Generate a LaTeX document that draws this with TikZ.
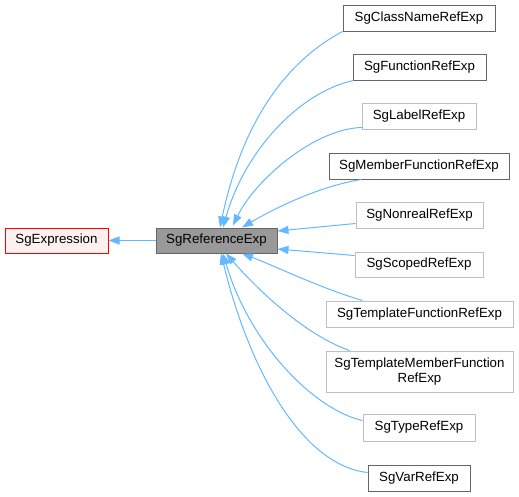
\documentclass[tikz,border=0pt]{standalone}
\usepackage{fontspec}
\setmainfont{Liberation Sans}
\usetikzlibrary{arrows.meta}
\definecolor{edgeblue}{HTML}{63B8FF}
\definecolor{darkb}{HTML}{666666}
\definecolor{lightb}{HTML}{BFBFBF}
\definecolor{pinkf}{HTML}{FFF0F0}
\definecolor{grayf}{HTML}{999999}
\begin{document}
\begin{tikzpicture}[x=1pt,y=-1pt,
  box/.style={draw, line width=1pt, fill=white, inner sep=0pt, minimum height=26pt, align=center,
    font=\fontsize{13.3}{15}\selectfont},
  docbox/.style={box, draw=darkb},
  undocbox/.style={box, draw=lightb},
  edge/.style={draw=edgeblue, line width=1pt, -{Triangle[length=11pt,width=8pt,fill=edgeblue]}}]
\useasboundingbox (0,0) rectangle (519,496);
\node[box, draw=red, fill=pinkf, minimum width=103pt, minimum height=25pt] (expr) at (56.5,240.5) {SgExpression};
\node[box, draw=darkb, fill=grayf, minimum width=121pt, minimum height=25pt] (ref) at (216.5,240.5) {SgReferenceExp};
\node[docbox, minimum width=152pt] (cls) at (419,18) {SgClassNameRefExp};
\node[docbox, minimum width=133pt] (fun) at (419.5,67) {SgFunctionRefExp};
\node[undocbox, minimum width=114pt] (lab) at (419,116) {SgLabelRefExp};
\node[docbox, minimum width=180pt] (mem) at (419,166) {SgMemberFunctionRefExp};
\node[undocbox, minimum width=127pt] (non) at (419.5,215) {SgNonrealRefExp};
\node[undocbox, minimum width=128pt, minimum height=25pt] (sco) at (419,264.5) {SgScopedRefExp};
\node[undocbox, minimum width=187pt] (tf) at (419.5,314) {SgTemplateFunctionRefExp};
\node[undocbox, minimum width=187pt, minimum height=41pt] (tm) at (419.5,371.5) {SgTemplateMemberFunction\\RefExp};
\node[undocbox, minimum width=112pt, minimum height=27pt] (typ) at (419,427.5) {SgTypeRefExp};
\node[docbox, minimum width=102pt] (var) at (419,478) {SgVarRefExp};

\draw[edge] (ref.west) -- (expr.east);

\draw[edge] (cls.south west) .. controls (308,50) and (248,95) .. ([xshift=3.5pt]ref.north);
\draw[edge] ([xshift=1pt]fun.south west) .. controls (300,92) and (245,150) .. ([xshift=6.5pt]ref.north);
\draw[edge] ([xshift=1pt,yshift=2pt]lab.south west) .. controls (315,128) and (255,180) .. ([xshift=16.5pt,yshift=2pt]ref.north);
\draw[edge] ([xshift=33pt]mem.south west) .. controls (320,186) and (275,208) .. ([xshift=25.5pt]ref.north);
\draw[edge] ([yshift=5pt]non.south west) -- ([yshift=9.5pt]ref.east);
\draw[edge] ([yshift=-4pt]sco.north west) -- ([yshift=-8.5pt]ref.east);
\draw[edge] ([xshift=37pt]tf.north west) .. controls (320,288) and (275,266) .. ([xshift=25.5pt]ref.south);
\draw[edge] ([xshift=24pt]tm.north west) .. controls (305,335) and (258,290) .. ([xshift=9.5pt]ref.south);
\draw[edge] ([yshift=-7pt]typ.north west) .. controls (315,410) and (250,345) .. ([xshift=6.5pt]ref.south);
\draw[edge] ([yshift=-8pt]var.north west) .. controls (300,465) and (248,365) .. ([xshift=4.5pt]ref.south);
\end{tikzpicture}
\end{document}
